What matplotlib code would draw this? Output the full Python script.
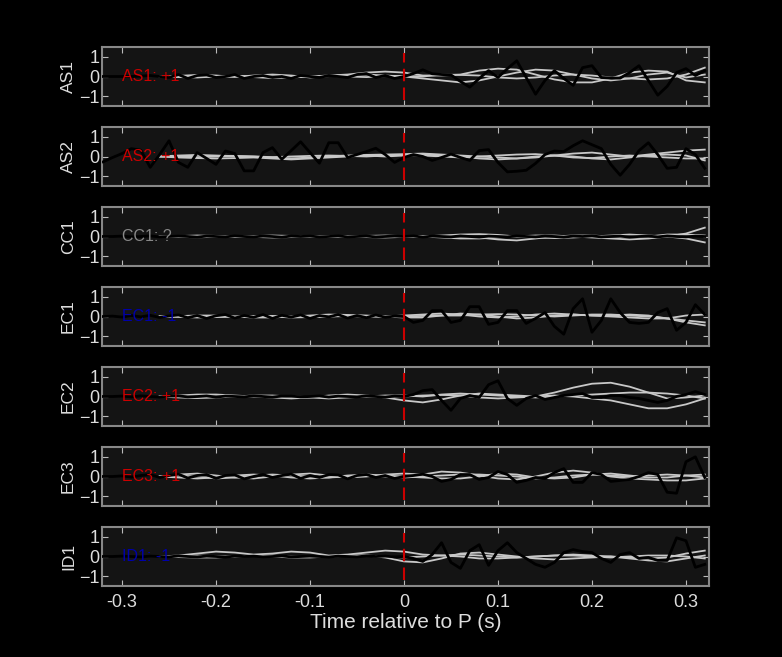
import numpy as np
import matplotlib
matplotlib.use("Agg")
import matplotlib.pyplot as plt

plt.rcParams['font.family'] = ['Liberation Sans', 'DejaVu Sans']

stations = ["AS1", "AS2", "CC1", "EC1", "EC2", "EC3", "ID1"]
polarity = ["+1", "+1", "?", "-1", "+1", "+1", "-1"]
label_colors = ["#cc0000", "#cc0000", "#888888", "#0000aa", "#cc0000", "#cc0000", "#0000aa"]

t_black = np.round(np.arange(-0.32, 0.3201, 0.01), 3)   # 65 samples
t_gray = np.round(np.arange(-0.26, 0.3201, 0.02), 3)    # 30 samples

AS1_black = [0, 0, 0, 0, .02, .05, 0, -.05, .1, -.1, .05, .08, -.05, 0, .1, -.1, 0, .05, -.05, 0, -.1, .05, 0, -.05, .05, 0, -.05, .1, .15, -.05, .05, -.1,
             0, .15, .34, .14, .1, .08, -.25, -.54, -.1, .3, -.05, .4, .8, -.05, -.9, -.2, .3, -.1, -.45, .45, .55, -.05, -.08, -.08, .2, .55, -.2, -.95, -.5, .2, .4, .05, .3]
AS2_black = [-.27, -.05, .15, .4, .32, -.55, .1, .8, -.3, -.55, .2, -.1, -.4, .28, .15, -.73, -.73, .2, .45, -.14, .3, .75, .2, -.34, .7, .7, -.05, .1, .25, .42, .1, -.3,
             -.05, .1, 0, -.2, -.05, .12, -.05, -.2, .3, .35, -.3, -.78, -.75, -.7, -.35, .1, .28, .25, .55, .8, .6, .4, -.4, -.95, -.4, .3, .7, .1, -.6, -.55, .4, .1, -.6]
CC1_black = [0, 0, .02, -.02, 0, .03, -.02, 0, .02, 0, -.03, .02, 0, -.02, .03, 0, -.02, .02, 0, -.03, .02, 0, .02, -.02, 0, .03, -.02, 0, .02, -.02, 0, .02,
             0, .03, -.03, .02, 0, -.02, .03, 0, -.03, .02, 0, -.02, .03, 0, -.02, .02, 0, -.03, .02, 0, .03, -.02, 0, .02, -.03, 0, .02, -.02, .03, 0, -.02, .02, 0]
EC1_black = [0, .02, -.03, .05, -.02, .06, -.05, .03, .08, -.06, .05, -.1, .04, .1, -.08, .05, -.04, .1, -.1, .06, -.03, .08, -.1, .05, -.02, .1, -.08, .05, -.06, .08, -.04, .02,
             0, -.3, -.2, .3, .3, -.3, -.2, .5, .5, -.4, -.3, .3, .3, -.35, -.1, .2, -.5, -.9, .4, .9, -.8, -.2, .9, .2, -.3, -.35, -.3, .2, .4, -.7, -.3, .6, .1]
EC2_black = [0, 0, .02, -.02, .03, 0, -.03, .02, .03, -.02, 0, .03, -.03, .02, 0, -.02, .03, 0, -.03, .02, .02, -.02, 0, .03, -.03, .02, 0, -.02, .03, 0, -.03, .02,
             0, .1, .3, .35, -.2, -.7, -.1, .05, -.05, .6, .8, -.1, -.45, -.1, .05, -.15, -.05, .05, .1, .15, -.05, -.05, .05, .05, -.05, -.1, -.2, -.3, -.2, 0, .1, .25, .1]
EC3_black = [0, 0, .03, -.03, .05, .1, -.05, .05, .12, -.08, .05, .1, -.1, .05, .08, -.12, 0, .1, -.05, .05, .12, -.1, .05, -.05, .1, .08, -.12, .05, .1, -.05, .05, -.1,
             0, .05, .12, 0, -.25, -.15, .1, .1, -.15, -.05, .25, .1, -.3, -.2, -.05, -.1, .2, .4, -.3, -.3, .2, .1, -.25, -.2, -.15, 0, .2, .1, -.8, -.85, .75, 1.0, -.05]
ID1_black = [0, 0, .02, 0, -.02, .02, 0, -.02, .03, 0, -.02, .02, 0, -.03, .02, 0, .02, -.02, 0, .03, -.02, 0, .02, 0, -.03, .02, 0, -.02, .03, 0, .02, -.02,
             0, -.1, -.25, .1, .7, -.3, -.6, .3, .6, -.45, .3, .7, .2, -.1, -.4, -.55, -.3, .2, .35, .25, .2, -.1, -.3, .1, .2, -.1, -.05, -.2, -.2, .95, .8, -.55, -.4]

AS1_gray = [
    [0, .03, .08, .05, -.02, .05, .1, .05, -.05, .02, .08, .1, .05, 0, -.1, -.2, -.3, -.2, 0, .2, .35, .3, .1, -.1, -.2, -.1, .1, .2, -.05, .1],
    [0, -.03, -.05, 0, .05, -.03, -.08, -.05, 0, .05, .1, .2, .25, .2, .05, .05, .1, .3, .4, .35, .1, -.15, -.3, -.3, -.1, .2, .3, .25, -.2, -.3],
    [0, 0, .03, -.03, 0, .03, 0, -.03, 0, .03, 0, -.03, .02, .03, 0, .1, .08, .05, -.05, -.1, -.05, .05, .1, .05, -.05, -.1, -.15, -.1, .1, .45],
]
AS2_gray = [
    [0, .05, .08, .05, .02, 0, -.05, -.1, -.05, 0, .05, .08, .1, .12, .15, .1, .05, 0, -.05, -.1, -.05, .05, .15, .2, .1, 0, .1, .2, .3, .35],
    [0, -.05, -.08, -.1, -.08, -.05, -.1, -.15, -.1, -.05, 0, .05, 0, .05, .1, .05, 0, -.1, -.15, -.1, 0, .05, 0, -.1, -.15, -.05, .05, .1, .05, -.2],
    [0, 0, -.03, 0, .03, 0, -.03, 0, .03, .05, .03, 0, .05, .08, .05, 0, -.05, 0, .05, .1, .12, .05, -.05, -.08, 0, .05, 0, -.05, -.1, -.1],
]
CC1_gray = [
    [0, .02, .05, .03, 0, .02, .05, .03, 0, -.03, 0, .03, .05, .02, 0, .05, .1, .12, .08, 0, -.05, -.08, -.05, 0, .05, .1, .05, 0, .15, .45],
    [0, -.02, -.04, -.02, 0, -.02, -.05, -.03, 0, .03, 0, -.03, -.05, -.02, 0, -.05, -.1, -.1, -.05, 0, .05, .05, 0, -.05, -.1, -.15, -.1, 0, -.1, -.3],
    [0, 0, .02, 0, -.02, 0, .02, 0, -.02, 0, .02, 0, -.02, 0, .02, .03, 0, -.05, -.15, -.2, -.1, 0, .05, .05, 0, -.05, 0, .1, .1, .05],
]
EC1_gray = [
    [0, .02, .05, .05, 0, -.05, -.05, 0, .05, .1, .08, .03, 0, .05, .1, .15, .1, 0, -.05, 0, .1, .15, .1, .05, .05, .1, .05, -.1, -.2, -.3],
    [0, -.02, -.05, -.03, 0, .03, 0, -.05, -.03, 0, .05, .05, 0, -.05, -.05, .05, .15, .1, 0, -.1, -.05, .05, .1, .05, 0, -.05, -.1, -.1, .05, .1],
    [0, 0, .02, 0, -.02, 0, .03, 0, -.03, 0, .02, 0, -.02, 0, .03, .05, .05, .1, .12, .1, .05, 0, .05, .1, .1, .05, 0, -.1, -.3, -.45],
]
EC2_gray = [
    [0, .05, .1, .1, .05, 0, -.05, -.1, -.05, .05, .1, .05, -.05, -.2, -.3, -.15, .05, .15, .1, .05, 0, .2, .45, .65, .7, .5, .2, -.1, -.05, .05],
    [0, -.05, -.08, -.05, 0, .05, .05, 0, -.05, -.1, -.05, 0, .05, .05, 0, .1, .15, .1, .05, 0, -.05, 0, .05, .1, .15, .2, .2, .15, .05, -.1],
    [0, 0, .03, 0, -.03, 0, .03, 0, -.03, 0, .03, 0, -.03, 0, .05, .08, .05, -.05, -.1, -.05, 0, .05, 0, -.1, -.2, -.4, -.6, -.6, -.4, -.1],
]
EC3_gray = [
    [0, .1, .15, .05, -.05, -.1, 0, .1, .15, .05, -.05, 0, .1, .15, .1, .25, .2, .05, -.1, -.15, 0, .2, .3, .2, 0, -.1, -.15, -.2, -.2, -.1],
    [0, -.05, -.1, -.05, .05, .1, .05, -.05, -.1, -.05, .05, .1, .05, 0, -.05, -.1, -.1, 0, .15, .1, -.05, -.1, -.05, .1, .15, .05, -.05, -.05, .05, .1],
    [0, .05, 0, -.1, -.05, .05, .1, .05, 0, -.05, 0, .05, 0, -.05, 0, .05, .1, .1, .05, 0, -.1, -.05, .05, .1, .05, 0, .05, .1, .05, -.05],
]
ID1_gray = [
    [0, .05, .15, .25, .2, .1, .15, .25, .2, .05, .1, .2, .3, .25, .1, .05, 0, -.1, -.1, -.05, 0, .05, .1, .05, 0, -.05, -.1, -.05, .15, .3],
    [0, -.03, -.05, -.05, 0, .05, 0, -.05, -.05, 0, .05, .05, -.05, -.25, -.3, -.1, .15, .2, .1, 0, -.1, -.15, -.1, -.05, 0, -.1, -.2, -.25, -.1, .05],
    [0, 0, .05, .02, 0, .03, .05, 0, -.03, 0, .03, .05, 0, -.05, 0, .05, .1, .05, 0, -.05, 0, .05, .05, 0, -.05, 0, .05, .05, 0, -.1],
]

black_data = [AS1_black, AS2_black, CC1_black, EC1_black, EC2_black, EC3_black, ID1_black]
gray_data = [AS1_gray, AS2_gray, CC1_gray, EC1_gray, EC2_gray, EC3_gray, ID1_gray]

W, H = 782, 657
fig = plt.figure(figsize=(W / 100, H / 100), dpi=100, facecolor='black')
txtc = '#dddddd'
left, right = 102 / W, 709 / W
for i, name in enumerate(stations):
    top = 47 + 80 * i
    bot = 106 + 80 * i
    ax = fig.add_axes([left, 1 - bot / H, right - left, (bot - top) / H])
    ax.set_facecolor('#141414')
    for g in gray_data[i]:
        ax.plot(t_gray, g, color='#c8c8c8', lw=1.3, zorder=2)
    ax.plot(t_black, black_data[i], color='black', lw=2, zorder=3)
    ax.plot([0, 0], [-1.2, 1.2], color='#cc0000', lw=1.5, ls=(0, (6, 3)), zorder=4)
    ax.text(-0.3, 0, f"{name}: {polarity[i]}", color=label_colors[i], fontsize=11.5,
            va='center', ha='left', zorder=5)
    ax.set_xlim(-0.3213, 0.3245)
    ax.set_ylim(-1.5, 1.5)
    ax.set_yticks([-1, 0, 1])
    ax.set_xticks([-0.3, -0.2, -0.1, 0, 0.1, 0.2, 0.3])
    ax.tick_params(direction='in', top=True, right=True, colors='#bbbbbb',
                   labelcolor=txtc, labelsize=13, length=4, pad=2)
    for s in ax.spines.values():
        s.set_color('#888888')
        s.set_linewidth(1.5)
    ax.set_ylabel(name, color=txtc, fontsize=12.5, labelpad=2)
    if i < len(stations) - 1:
        ax.set_xticklabels([])
    else:
        ax.set_xticklabels(['-0.3', '-0.2', '-0.1', '0', '0.1', '0.2', '0.3'])
        ax.tick_params(axis='x', pad=6)
        ax.set_xlabel('Time relative to P (s)', color=txtc, fontsize=15, labelpad=1)

fig.savefig('out.png', dpi=100, facecolor='black')
